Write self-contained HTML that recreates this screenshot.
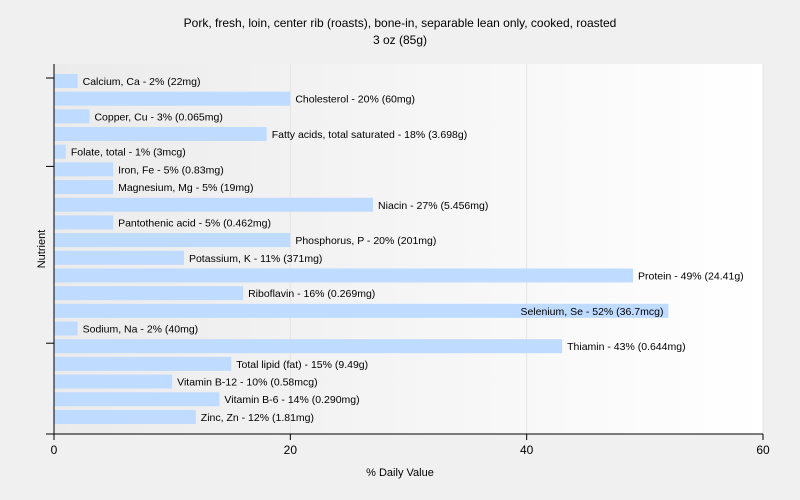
<!DOCTYPE html>
<html><head><meta charset="utf-8"><style>
body{margin:0;background:#f0f0f0;font-family:"Liberation Sans",sans-serif;overflow:hidden}
svg{display:block}
svg text{font-family:"Liberation Sans",sans-serif}
</style></head><body>
<svg id="c" width="800" height="500">
<defs><linearGradient id="g" x1="0" x2="1" y1="0" y2="0"><stop offset="0" stop-color="#ebebeb"/><stop offset="1" stop-color="#ffffff"/></linearGradient></defs>
<rect width="800" height="500" fill="#f0f0f0"/>
<text x="400" y="27" text-anchor="middle" font-size="12">Pork, fresh, loin, center rib (roasts), bone-in, separable lean only, cooked, roasted</text>
<text x="400" y="44" text-anchor="middle" font-size="12">3 oz (85g)</text>
<rect x="54" y="64" width="709" height="370" fill="url(#g)"/>
<g id="grid"></g><g id="bars"></g><g id="axes"></g>
<text x="400" y="476" text-anchor="middle" font-size="11">% Daily Value</text>
<text transform="translate(45,249) rotate(-90)" text-anchor="middle" font-size="11">Nutrient</text>
</svg>
<script>
const categories=["Calcium, Ca","Cholesterol","Copper, Cu","Fatty acids, total saturated","Folate, total","Iron, Fe","Magnesium, Mg","Niacin","Pantothenic acid","Phosphorus, P","Potassium, K","Protein","Riboflavin","Selenium, Se","Sodium, Na","Thiamin","Total lipid (fat)","Vitamin B-12","Vitamin B-6","Zinc, Zn"];
const values=[2,20,3,18,1,5,5,27,5,20,11,49,16,52,2,43,15,10,14,12];
const amounts=["22mg","60mg","0.065mg","3.698g","3mcg","0.83mg","19mg","5.456mg","0.462mg","201mg","371mg","24.41g","0.269mg","36.7mcg","40mg","0.644mg","9.49g","0.58mcg","0.290mg","1.81mg"];
const xTicks=[0,20,40,60];
const NS="http://www.w3.org/2000/svg";
const x0=54,x1=763,xMax=60,top0=74,step=17.68,bh=14,yB=434;
const xs=v=>x0+v/xMax*(x1-x0);
const ys=i=>top0+i*step;
function mk(t,a,p){const e=document.createElementNS(NS,t);for(const k in a)e.setAttribute(k,a[k]);p.appendChild(e);return e;}
const grid=document.getElementById('grid'),bars=document.getElementById('bars'),axes=document.getElementById('axes');
xTicks.forEach(t=>{if(t>0){const l=mk('line',{x1:xs(t),x2:xs(t),y1:64,y2:yB,stroke:'#e4e4e4'},grid);

}
const tk=mk('line',{x1:xs(t),x2:xs(t),y1:yB,y2:yB+6,stroke:'#000'},axes);


const tx=mk('text',{x:xs(t),y:yB+20,'text-anchor':'middle','font-size':12},axes);tx.textContent=t;

});
categories.forEach((c,i)=>{const end=xs(values[i]);
const r=mk('rect',{x:x0,y:ys(i),width:end-x0,height:bh,fill:'#bfdbff'},bars);


const t=mk('text',{x:end+5,y:ys(i)+11,'font-size':10.5},bars);t.textContent=c+' - '+values[i]+'% ('+amounts[i]+')';


const w=t.getComputedTextLength();
if(end+5+w>x1){t.setAttribute('x',end-5);t.setAttribute('text-anchor','end');}});
const ya=mk('line',{x1:x0,x2:x0,y1:64,y2:yB,stroke:'#000'},axes);


const xa=mk('line',{x1:46,x2:x1,y1:yB,y2:yB,stroke:'#000'},axes);


[0,5,15].forEach(i=>{const l=mk('line',{x1:46,x2:x0,y1:ys(i)+4,y2:ys(i)+4,stroke:'#000'},axes);

});
</script>
</body></html>
